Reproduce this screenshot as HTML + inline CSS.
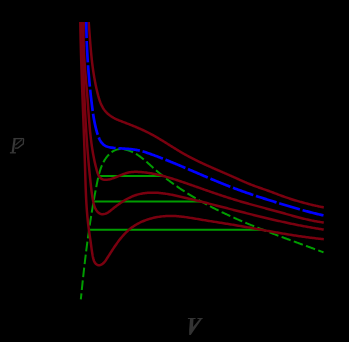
<!DOCTYPE html>
<html><head><meta charset="utf-8"><style>
html,body{margin:0;padding:0;background:#000;}
body{width:349px;height:342px;overflow:hidden;position:relative;font-family:"Liberation Serif",serif;}
svg{position:absolute;left:0;top:0;display:block}
</style></head><body>
<svg width="349" height="342" viewBox="0 0 349 342">
<rect width="349" height="342" fill="#000"/>
<path d="M80.84,299.41 L80.94,298.40 L81.04,297.39 L81.14,296.39 L81.24,295.38 L81.34,294.38 L81.44,293.38 L81.54,292.38 L81.64,291.38 L81.75,290.38 L81.85,289.39 L81.95,288.39 L82.05,287.40 L82.16,286.40 L82.26,285.41 L82.37,284.42 L82.47,283.43 L82.57,282.44 L82.68,281.45 L82.78,280.47 L82.89,279.48 L83.00,278.49 L83.10,277.51 L83.21,276.52 L83.32,275.54 L83.43,274.56 L83.53,273.58 L83.64,272.60 L83.75,271.62 L83.86,270.64 L83.97,269.66 L84.08,268.68 L84.19,267.70 L84.31,266.73 L84.42,265.75 L84.53,264.78 L84.64,263.80 L84.76,262.83 L84.87,261.86 L84.99,260.88 L85.10,259.91 L85.22,258.94 L85.34,257.97 L85.45,257.00 L85.57,256.03 L85.69,255.06 L85.81,254.09 L85.93,253.12 L86.05,252.15 L86.17,251.18 L86.30,250.21 L86.42,249.24 L86.54,248.27 L86.67,247.31 L86.79,246.34 L86.92,245.37 L87.05,244.41 L87.17,243.44 L87.30,242.47 L87.43,241.51 L87.56,240.54 L87.69,239.57 L87.82,238.61 L87.96,237.64 L88.09,236.68 L88.22,235.71 L88.36,234.74 L88.49,233.78 L88.63,232.81 L88.77,231.85 L88.91,230.88 L89.05,229.91 L89.19,228.95 L89.33,227.98 L89.47,227.01 L89.61,226.05 L89.76,225.08 L89.90,224.11 L90.05,223.14 L90.20,222.18 L90.35,221.21 L90.50,220.24 L90.65,219.27 L90.80,218.30 L90.95,217.33 L91.10,216.36 L91.26,215.39 L91.41,214.42 L91.57,213.45 L91.73,212.48 L91.89,211.51 L92.05,210.53 L92.21,209.56 L92.37,208.59 L92.54,207.61 L92.70,206.64 L92.87,205.66 L93.03,204.69 L93.20,203.71 L93.37,202.73 L93.54,201.75 L93.72,200.78 L93.89,199.80 L94.06,198.82 L94.24,197.83 L94.42,196.85 L94.60,195.87 L94.78,194.89 L94.96,193.90 L95.14,192.92 L95.32,191.93 L95.51,190.94 L95.70,189.96 L95.88,188.97 L96.07,187.98 L96.26,186.99 L96.46,186.00 L96.65,185.00 L96.84,184.01 L97.04,183.01 L97.24,182.02 L97.44,181.02 L97.65,180.03 L97.86,179.04 L98.08,178.05 L98.30,177.06 L98.54,176.08 L98.78,175.09 L99.03,174.12 L99.29,173.15 L99.56,172.18 L99.84,171.22 L100.14,170.27 L100.45,169.32 L100.77,168.38 L101.11,167.45 L101.46,166.53 L101.83,165.62 L102.22,164.72 L102.63,163.83 L103.06,162.95 L103.50,162.08 L103.97,161.23 L104.46,160.38 L104.97,159.55 L105.51,158.74 L106.07,157.94 L106.65,157.16 L107.25,156.41 L107.88,155.67 L108.52,154.96 L109.19,154.29 L109.87,153.64 L110.58,153.02 L111.30,152.44 L112.05,151.90 L112.81,151.40 L113.59,150.94 L114.38,150.53 L115.20,150.17 L116.03,149.85 L116.88,149.59 L117.74,149.38 L118.61,149.22 L119.50,149.12 L120.40,149.06 L121.31,149.06 L122.23,149.09 L123.15,149.18 L124.08,149.30 L125.02,149.47 L125.96,149.67 L126.89,149.91 L127.83,150.19 L128.77,150.49 L129.70,150.83 L130.63,151.20 L131.55,151.59 L132.46,152.02 L133.37,152.46 L134.26,152.93 L135.15,153.41 L136.02,153.92 L136.87,154.44 L137.72,154.97 L138.55,155.53 L139.37,156.09 L140.18,156.67 L140.98,157.26 L141.78,157.87 L142.56,158.48 L143.34,159.10 L144.11,159.74 L144.87,160.38 L145.63,161.02 L146.39,161.68 L147.14,162.34 L147.88,163.00 L148.63,163.66 L149.37,164.33 L150.11,165.00 L150.85,165.67 L151.59,166.34 L152.33,167.00 L153.07,167.67 L153.81,168.33 L154.56,168.99 L155.31,169.64 L156.06,170.29 L156.81,170.94 L157.57,171.58 L158.32,172.22 L159.08,172.86 L159.85,173.49 L160.61,174.12 L161.38,174.74 L162.15,175.37 L162.92,175.98 L163.69,176.60 L164.47,177.21 L165.24,177.82 L166.02,178.42 L166.80,179.03 L167.59,179.62 L168.37,180.22 L169.16,180.81 L169.95,181.40 L170.74,181.98 L171.54,182.56 L172.33,183.14 L173.13,183.72 L173.93,184.29 L174.73,184.86 L175.54,185.42 L176.34,185.99 L177.15,186.55 L177.96,187.10 L178.77,187.66 L179.58,188.21 L180.40,188.75 L181.21,189.30 L182.03,189.84 L182.85,190.38 L183.67,190.91 L184.50,191.45 L185.32,191.98 L186.15,192.50 L186.98,193.03 L187.81,193.55 L188.64,194.07 L189.48,194.58 L190.31,195.10 L191.15,195.61 L191.99,196.11 L192.83,196.62 L193.67,197.12 L194.52,197.62 L195.36,198.12 L196.21,198.61 L197.06,199.10 L197.91,199.59 L198.76,200.08 L199.61,200.56 L200.47,201.05 L201.32,201.53 L202.18,202.00 L203.04,202.48 L203.90,202.95 L204.76,203.42 L205.62,203.88 L206.49,204.35 L207.35,204.81 L208.22,205.27 L209.09,205.73 L209.95,206.19 L210.83,206.64 L211.70,207.09 L212.57,207.54 L213.44,207.99 L214.32,208.43 L215.20,208.87 L216.07,209.31 L216.95,209.75 L217.83,210.19 L218.71,210.62 L219.60,211.05 L220.48,211.48 L221.37,211.91 L222.25,212.34 L223.14,212.76 L224.03,213.18 L224.91,213.60 L225.80,214.02 L226.69,214.44 L227.59,214.85 L228.48,215.27 L229.37,215.68 L230.27,216.09 L231.16,216.49 L232.06,216.90 L232.96,217.30 L233.85,217.71 L234.75,218.11 L235.65,218.51 L236.55,218.90 L237.46,219.30 L238.36,219.69 L239.26,220.09 L240.16,220.48 L241.07,220.87 L241.97,221.26 L242.88,221.64 L243.79,222.03 L244.69,222.41 L245.60,222.79 L246.51,223.17 L247.42,223.55 L248.33,223.93 L249.24,224.31 L250.15,224.68 L251.06,225.06 L251.97,225.43 L252.89,225.80 L253.80,226.17 L254.71,226.54 L255.63,226.91 L256.54,227.28 L257.46,227.64 L258.37,228.01 L259.29,228.37 L260.21,228.74 L261.12,229.10 L262.04,229.46 L262.96,229.82 L263.87,230.17 L264.79,230.53 L265.71,230.89 L266.63,231.24 L267.55,231.60 L268.47,231.95 L269.39,232.31 L270.31,232.66 L271.23,233.01 L272.15,233.36 L273.07,233.71 L273.99,234.06 L274.91,234.41 L275.83,234.75 L276.75,235.10 L277.67,235.45 L278.59,235.79 L279.52,236.14 L280.44,236.48 L281.36,236.82 L282.28,237.17 L283.20,237.51 L284.12,237.85 L285.04,238.19 L285.97,238.53 L286.89,238.87 L287.81,239.21 L288.73,239.55 L289.65,239.89 L290.57,240.23 L291.49,240.57 L292.41,240.91 L293.33,241.25 L294.25,241.58 L295.17,241.92 L296.09,242.26 L297.01,242.59 L297.93,242.93 L298.85,243.27 L299.77,243.60 L300.69,243.94 L301.61,244.28 L302.53,244.61 L303.45,244.95 L304.36,245.28 L305.28,245.62 L306.20,245.95 L307.11,246.29 L308.03,246.63 L308.94,246.96 L309.86,247.30 L310.77,247.63 L311.69,247.97 L312.60,248.30 L313.52,248.64 L314.43,248.98 L315.34,249.31 L316.25,249.65 L317.16,249.99 L318.07,250.32 L318.98,250.66 L319.89,251.00 L320.80,251.34 L321.71,251.68 L322.62,252.02 L323.52,252.35" fill="none" stroke="#009c00" stroke-width="2" stroke-dasharray="9.6,3.395" stroke-dashoffset="3.53"/>
<path d="M98.6,176.0 L163.2,176.0" stroke="#009c00" stroke-width="2" fill="none"/>
<path d="M93.2,201.5 L201,201.5" stroke="#009c00" stroke-width="2" fill="none"/>
<path d="M89,229.8 L264,229.8" stroke="#009c00" stroke-width="2" fill="none"/>
<path d="M80.30,22.00 L80.32,23.24 L80.34,24.48 L80.36,25.71 L80.39,26.95 L80.41,28.19 L80.43,29.43 L80.46,30.66 L80.48,31.90 L80.51,33.14 L80.53,34.37 L80.56,35.61 L80.59,36.85 L80.62,38.09 L80.64,39.32 L80.67,40.56 L80.70,41.80 L80.73,43.03 L80.77,44.27 L80.80,45.51 L80.83,46.75 L80.86,47.98 L80.90,49.22 L80.93,50.46 L80.96,51.69 L81.00,52.93 L81.03,54.17 L81.07,55.41 L81.11,56.64 L81.14,57.88 L81.18,59.12 L81.22,60.36 L81.26,61.59 L81.29,62.83 L81.33,64.07 L81.37,65.30 L81.41,66.54 L81.45,67.78 L81.49,69.02 L81.53,70.25 L81.58,71.49 L81.62,72.73 L81.66,73.97 L81.70,75.20 L81.74,76.44 L81.79,77.68 L81.83,78.92 L81.87,80.15 L81.92,81.39 L81.96,82.63 L82.00,83.86 L82.05,85.10 L82.09,86.34 L82.14,87.58 L82.18,88.81 L82.23,90.05 L82.27,91.29 L82.32,92.53 L82.37,93.76 L82.41,95.00 L82.46,96.24 L82.50,97.47 L82.55,98.71 L82.60,99.95 L82.64,101.19 L82.69,102.42 L82.74,103.66 L82.79,104.90 L82.83,106.14 L82.88,107.37 L82.93,108.61 L82.97,109.85 L83.02,111.08 L83.07,112.32 L83.12,113.56 L83.16,114.80 L83.21,116.03 L83.26,117.27 L83.31,118.51 L83.35,119.74 L83.40,120.98 L83.45,122.22 L83.49,123.46 L83.54,124.69 L83.59,125.93 L83.64,127.17 L83.68,128.40 L83.73,129.64 L83.78,130.88 L83.82,132.11 L83.87,133.35 L83.91,134.59 L83.96,135.83 L84.01,137.06 L84.05,138.30 L84.10,139.54 L84.14,140.77 L84.19,142.01 L84.23,143.25 L84.28,144.48 L84.32,145.72 L84.36,146.96 L84.41,148.19 L84.45,149.43 L84.50,150.67 L84.54,151.90 L84.58,153.14 L84.62,154.38 L84.67,155.61 L84.71,156.85 L84.75,158.09 L84.79,159.32 L84.83,160.56 L84.87,161.80 L84.91,163.03 L84.95,164.27 L84.99,165.51 L85.03,166.74 L85.07,167.98 L85.10,169.21 L85.14,170.45 L85.18,171.69 L85.22,172.92 L85.25,174.16 L85.29,175.40 L85.33,176.63 L85.36,177.87 L85.40,179.10 L85.44,180.34 L85.48,181.58 L85.52,182.81 L85.56,184.05 L85.60,185.28 L85.64,186.52 L85.69,187.76 L85.73,188.99 L85.78,190.23 L85.83,191.46 L85.88,192.70 L85.93,193.94 L85.98,195.17 L86.04,196.41 L86.10,197.64 L86.16,198.88 L86.22,200.11 L86.29,201.35 L86.36,202.59 L86.43,203.82 L86.51,205.06 L86.59,206.29 L86.67,207.53 L86.76,208.76 L86.85,210.00 L86.94,211.24 L87.04,212.47 L87.14,213.71 L87.24,214.94 L87.35,216.18 L87.47,217.41 L87.59,218.65 L87.71,219.88 L87.84,221.12 L87.97,222.35 L88.11,223.59 L88.25,224.82 L88.40,226.06 L88.56,227.30 L88.72,228.53 L88.88,229.77 L89.05,231.00 L89.23,232.23 L89.41,233.47 L89.59,234.70 L89.77,235.92 L89.96,237.14 L90.14,238.36 L90.32,239.57 L90.49,240.77 L90.66,241.96 L90.82,243.15 L90.98,244.32 L91.13,245.50 L91.29,246.69 L91.45,247.88 L91.61,249.08 L91.79,250.30 L91.97,251.55 L92.17,252.81 L92.38,254.11 L92.60,255.45 L92.86,256.81 L93.15,258.16 L93.50,259.49 L93.93,260.75 L94.46,261.91 L95.10,262.94 L95.85,263.82 L96.71,264.51 L97.65,264.98 L98.64,265.21 L99.67,265.18 L100.70,264.91 L101.71,264.45 L102.66,263.81 L103.53,263.05 L104.34,262.17 L105.10,261.21 L105.82,260.19 L106.53,259.12 L107.22,258.05 L107.91,256.97 L108.60,255.89 L109.30,254.81 L109.99,253.73 L110.68,252.66 L111.37,251.58 L112.07,250.50 L112.77,249.43 L113.47,248.37 L114.18,247.31 L114.90,246.25 L115.61,245.21 L116.34,244.17 L117.07,243.14 L117.82,242.12 L118.57,241.11 L119.32,240.11 L120.09,239.12 L120.87,238.15 L121.67,237.19 L122.47,236.25 L123.29,235.33 L124.12,234.42 L124.96,233.52 L125.82,232.65 L126.70,231.80 L127.59,230.97 L128.50,230.15 L129.42,229.37 L130.37,228.60 L131.33,227.86 L132.31,227.14 L133.31,226.44 L134.33,225.77 L135.36,225.12 L136.40,224.50 L137.47,223.90 L138.54,223.32 L139.64,222.76 L140.74,222.23 L141.86,221.72 L142.99,221.23 L144.13,220.76 L145.28,220.32 L146.44,219.89 L147.61,219.49 L148.79,219.12 L149.98,218.76 L151.18,218.42 L152.38,218.11 L153.59,217.82 L154.81,217.55 L156.03,217.30 L157.26,217.07 L158.49,216.87 L159.72,216.68 L160.96,216.51 L162.20,216.37 L163.45,216.24 L164.69,216.14 L165.93,216.06 L167.18,215.99 L168.42,215.95 L169.67,215.93 L170.91,215.92 L172.15,215.94 L173.39,215.97 L174.62,216.02 L175.86,216.09 L177.09,216.17 L178.33,216.27 L179.56,216.38 L180.79,216.51 L182.02,216.64 L183.24,216.79 L184.47,216.95 L185.70,217.12 L186.92,217.29 L188.15,217.47 L189.37,217.66 L190.59,217.86 L191.82,218.05 L193.04,218.26 L194.26,218.46 L195.48,218.67 L196.70,218.88 L197.93,219.09 L199.15,219.30 L200.37,219.50 L201.59,219.71 L202.81,219.91 L204.03,220.11 L205.26,220.31 L206.48,220.51 L207.70,220.71 L208.92,220.91 L210.14,221.11 L211.37,221.30 L212.59,221.50 L213.81,221.69 L215.03,221.89 L216.26,222.08 L217.48,222.28 L218.70,222.47 L219.92,222.67 L221.14,222.86 L222.36,223.06 L223.59,223.25 L224.81,223.45 L226.03,223.64 L227.25,223.84 L228.47,224.04 L229.69,224.24 L230.91,224.44 L232.13,224.64 L233.36,224.84 L234.58,225.04 L235.80,225.25 L237.02,225.45 L238.24,225.66 L239.46,225.87 L240.67,226.08 L241.89,226.29 L243.11,226.51 L244.33,226.72 L245.55,226.93 L246.77,227.15 L247.99,227.36 L249.21,227.58 L250.43,227.80 L251.64,228.02 L252.86,228.23 L254.08,228.45 L255.30,228.67 L256.52,228.89 L257.74,229.11 L258.96,229.33 L260.17,229.55 L261.39,229.77 L262.61,229.99 L263.83,230.21 L265.05,230.43 L266.27,230.64 L267.48,230.86 L268.70,231.08 L269.92,231.30 L271.14,231.51 L272.36,231.73 L273.58,231.94 L274.80,232.16 L276.02,232.37 L277.24,232.58 L278.46,232.79 L279.68,233.00 L280.90,233.21 L282.12,233.42 L283.34,233.62 L284.56,233.83 L285.78,234.03 L287.00,234.23 L288.22,234.43 L289.45,234.63 L290.67,234.83 L291.89,235.02 L293.11,235.21 L294.34,235.40 L295.56,235.59 L296.78,235.78 L298.01,235.96 L299.23,236.14 L300.46,236.32 L301.68,236.49 L302.91,236.67 L304.13,236.84 L305.36,237.01 L306.59,237.17 L307.81,237.34 L309.04,237.50 L310.27,237.65 L311.50,237.81 L312.73,237.96 L313.95,238.10 L315.18,238.25 L316.42,238.39 L317.65,238.53 L318.88,238.66 L320.11,238.79 L321.34,238.92 L322.57,239.04 L323.81,239.16" fill="none" stroke="#79000f" stroke-width="2.5"/>
<path d="M82.03,22.02 L82.06,23.08 L82.08,24.15 L82.11,25.22 L82.14,26.28 L82.17,27.35 L82.19,28.42 L82.22,29.49 L82.25,30.55 L82.28,31.62 L82.30,32.69 L82.33,33.76 L82.36,34.83 L82.39,35.90 L82.42,36.97 L82.45,38.04 L82.47,39.11 L82.50,40.18 L82.53,41.25 L82.56,42.32 L82.59,43.39 L82.62,44.46 L82.65,45.53 L82.68,46.60 L82.71,47.67 L82.74,48.75 L82.77,49.82 L82.80,50.89 L82.83,51.96 L82.86,53.03 L82.89,54.11 L82.92,55.18 L82.95,56.25 L82.99,57.32 L83.02,58.40 L83.05,59.47 L83.08,60.54 L83.12,61.62 L83.15,62.69 L83.18,63.76 L83.22,64.84 L83.25,65.91 L83.29,66.99 L83.32,68.06 L83.36,69.13 L83.39,70.21 L83.43,71.28 L83.46,72.36 L83.50,73.43 L83.54,74.51 L83.57,75.58 L83.61,76.66 L83.65,77.73 L83.69,78.81 L83.73,79.88 L83.77,80.96 L83.81,82.03 L83.85,83.11 L83.89,84.18 L83.93,85.26 L83.97,86.33 L84.01,87.41 L84.06,88.48 L84.10,89.56 L84.14,90.63 L84.19,91.71 L84.23,92.78 L84.28,93.86 L84.32,94.93 L84.37,96.01 L84.41,97.08 L84.46,98.16 L84.51,99.23 L84.56,100.31 L84.61,101.38 L84.66,102.45 L84.71,103.53 L84.76,104.60 L84.81,105.68 L84.86,106.75 L84.91,107.83 L84.97,108.90 L85.02,109.98 L85.07,111.05 L85.13,112.12 L85.18,113.20 L85.24,114.27 L85.30,115.35 L85.36,116.42 L85.41,117.49 L85.47,118.57 L85.53,119.64 L85.59,120.71 L85.65,121.79 L85.72,122.86 L85.78,123.93 L85.84,125.01 L85.91,126.08 L85.97,127.15 L86.04,128.22 L86.10,129.29 L86.17,130.37 L86.24,131.44 L86.31,132.51 L86.38,133.58 L86.45,134.65 L86.52,135.72 L86.59,136.79 L86.66,137.86 L86.74,138.93 L86.81,140.00 L86.89,141.07 L86.96,142.14 L87.04,143.21 L87.12,144.28 L87.20,145.35 L87.28,146.42 L87.36,147.49 L87.44,148.56 L87.52,149.63 L87.60,150.69 L87.69,151.76 L87.77,152.83 L87.86,153.90 L87.95,154.96 L88.03,156.03 L88.12,157.10 L88.21,158.16 L88.30,159.23 L88.40,160.29 L88.49,161.36 L88.58,162.42 L88.68,163.49 L88.77,164.55 L88.87,165.62 L88.97,166.68 L89.07,167.74 L89.17,168.80 L89.27,169.87 L89.37,170.93 L89.47,171.99 L89.58,173.05 L89.68,174.11 L89.79,175.17 L89.90,176.24 L90.01,177.30 L90.12,178.35 L90.23,179.41 L90.34,180.47 L90.45,181.53 L90.57,182.59 L90.68,183.65 L90.80,184.70 L90.92,185.76 L91.04,186.82 L91.16,187.88 L91.29,188.94 L91.42,190.00 L91.55,191.06 L91.69,192.12 L91.84,193.19 L91.99,194.26 L92.15,195.33 L92.32,196.41 L92.50,197.49 L92.68,198.58 L92.88,199.68 L93.09,200.77 L93.31,201.88 L93.55,202.98 L93.81,204.08 L94.10,205.16 L94.44,206.23 L94.81,207.27 L95.24,208.27 L95.72,209.24 L96.27,210.16 L96.89,211.03 L97.58,211.83 L98.34,212.55 L99.15,213.17 L100.03,213.66 L100.95,214.01 L101.91,214.19 L102.91,214.21 L103.92,214.09 L104.92,213.84 L105.91,213.49 L106.86,213.05 L107.78,212.55 L108.67,212.00 L109.53,211.39 L110.39,210.75 L111.23,210.08 L112.07,209.39 L112.91,208.70 L113.76,208.01 L114.62,207.33 L115.49,206.65 L116.36,205.98 L117.25,205.31 L118.14,204.66 L119.04,204.01 L119.94,203.37 L120.85,202.75 L121.77,202.13 L122.70,201.53 L123.63,200.94 L124.57,200.37 L125.52,199.81 L126.47,199.27 L127.43,198.75 L128.39,198.24 L129.36,197.76 L130.33,197.29 L131.31,196.84 L132.30,196.42 L133.29,196.02 L134.28,195.64 L135.28,195.28 L136.28,194.95 L137.29,194.65 L138.30,194.37 L139.31,194.11 L140.33,193.87 L141.35,193.66 L142.38,193.47 L143.41,193.30 L144.44,193.15 L145.48,193.02 L146.51,192.91 L147.56,192.82 L148.60,192.75 L149.65,192.70 L150.69,192.66 L151.75,192.64 L152.80,192.64 L153.86,192.65 L154.91,192.68 L155.97,192.72 L157.03,192.78 L158.10,192.85 L159.16,192.94 L160.23,193.04 L161.30,193.15 L162.36,193.27 L163.43,193.40 L164.50,193.55 L165.57,193.70 L166.64,193.87 L167.72,194.04 L168.79,194.23 L169.86,194.42 L170.93,194.62 L172.01,194.82 L173.08,195.04 L174.15,195.25 L175.22,195.48 L176.29,195.71 L177.36,195.94 L178.43,196.18 L179.50,196.42 L180.57,196.67 L181.63,196.91 L182.70,197.16 L183.76,197.42 L184.82,197.67 L185.88,197.92 L186.94,198.17 L188.00,198.43 L189.05,198.68 L190.11,198.93 L191.16,199.19 L192.21,199.45 L193.26,199.70 L194.31,199.96 L195.35,200.21 L196.40,200.47 L197.45,200.73 L198.49,200.99 L199.53,201.25 L200.57,201.51 L201.61,201.76 L202.65,202.02 L203.69,202.28 L204.73,202.54 L205.77,202.80 L206.80,203.07 L207.84,203.33 L208.87,203.59 L209.91,203.85 L210.94,204.11 L211.97,204.37 L213.01,204.64 L214.04,204.90 L215.07,205.16 L216.10,205.43 L217.13,205.69 L218.16,205.95 L219.20,206.22 L220.23,206.48 L221.26,206.74 L222.29,207.01 L223.32,207.27 L224.35,207.54 L225.38,207.80 L226.41,208.07 L227.44,208.33 L228.47,208.60 L229.50,208.86 L230.54,209.12 L231.57,209.39 L232.60,209.65 L233.64,209.92 L234.67,210.18 L235.70,210.45 L236.74,210.71 L237.77,210.98 L238.81,211.24 L239.85,211.51 L240.88,211.77 L241.92,212.03 L242.96,212.30 L244.00,212.56 L245.04,212.82 L246.07,213.09 L247.11,213.35 L248.15,213.61 L249.20,213.87 L250.24,214.13 L251.28,214.39 L252.32,214.66 L253.36,214.91 L254.41,215.17 L255.45,215.43 L256.49,215.69 L257.54,215.95 L258.58,216.20 L259.63,216.46 L260.67,216.72 L261.72,216.97 L262.76,217.22 L263.81,217.48 L264.86,217.73 L265.90,217.98 L266.95,218.23 L268.00,218.48 L269.04,218.73 L270.09,218.97 L271.14,219.22 L272.19,219.46 L273.24,219.71 L274.29,219.95 L275.34,220.19 L276.39,220.43 L277.44,220.67 L278.49,220.91 L279.54,221.15 L280.59,221.38 L281.64,221.62 L282.69,221.85 L283.74,222.08 L284.79,222.31 L285.84,222.54 L286.89,222.77 L287.95,222.99 L289.00,223.22 L290.05,223.44 L291.10,223.66 L292.15,223.88 L293.21,224.09 L294.26,224.31 L295.31,224.52 L296.36,224.74 L297.42,224.95 L298.47,225.16 L299.52,225.36 L300.57,225.57 L301.63,225.77 L302.68,225.97 L303.73,226.17 L304.79,226.37 L305.84,226.56 L306.89,226.76 L307.95,226.95 L309.00,227.14 L310.05,227.32 L311.11,227.51 L312.16,227.69 L313.21,227.87 L314.26,228.05 L315.32,228.23 L316.37,228.40 L317.42,228.57 L318.47,228.74 L319.53,228.91 L320.58,229.07 L321.63,229.23 L322.68,229.39 L323.74,229.55" fill="none" stroke="#79000f" stroke-width="2.5"/>
<path d="M83.90,22.00 L83.85,22.99 L83.80,23.98 L83.76,24.97 L83.72,25.96 L83.68,26.94 L83.65,27.93 L83.63,28.92 L83.61,29.90 L83.59,30.89 L83.57,31.87 L83.56,32.85 L83.55,33.84 L83.55,34.82 L83.55,35.80 L83.55,36.78 L83.56,37.76 L83.57,38.74 L83.58,39.72 L83.60,40.70 L83.62,41.68 L83.64,42.65 L83.66,43.63 L83.69,44.61 L83.72,45.59 L83.75,46.56 L83.79,47.54 L83.83,48.51 L83.87,49.49 L83.91,50.46 L83.96,51.44 L84.00,52.41 L84.05,53.38 L84.11,54.36 L84.16,55.33 L84.22,56.30 L84.27,57.28 L84.33,58.25 L84.39,59.22 L84.46,60.19 L84.52,61.16 L84.59,62.14 L84.66,63.11 L84.73,64.08 L84.80,65.05 L84.87,66.02 L84.94,66.99 L85.01,67.96 L85.09,68.93 L85.17,69.91 L85.24,70.88 L85.32,71.85 L85.40,72.82 L85.48,73.79 L85.56,74.76 L85.64,75.73 L85.72,76.70 L85.80,77.68 L85.88,78.65 L85.96,79.62 L86.04,80.59 L86.13,81.56 L86.21,82.53 L86.29,83.51 L86.37,84.48 L86.45,85.45 L86.53,86.43 L86.62,87.40 L86.70,88.37 L86.78,89.35 L86.86,90.32 L86.93,91.30 L87.01,92.27 L87.09,93.25 L87.17,94.22 L87.24,95.20 L87.32,96.18 L87.39,97.15 L87.47,98.13 L87.54,99.11 L87.61,100.09 L87.68,101.06 L87.75,102.04 L87.82,103.02 L87.89,104.00 L87.96,104.98 L88.03,105.96 L88.10,106.94 L88.17,107.92 L88.24,108.89 L88.31,109.87 L88.38,110.85 L88.45,111.83 L88.53,112.81 L88.60,113.79 L88.67,114.77 L88.74,115.74 L88.82,116.72 L88.89,117.70 L88.97,118.67 L89.04,119.65 L89.12,120.62 L89.20,121.60 L89.28,122.57 L89.36,123.55 L89.44,124.52 L89.53,125.49 L89.61,126.47 L89.70,127.44 L89.79,128.41 L89.88,129.38 L89.97,130.35 L90.07,131.31 L90.17,132.28 L90.27,133.25 L90.37,134.21 L90.47,135.18 L90.58,136.14 L90.68,137.10 L90.80,138.06 L90.91,139.02 L91.03,139.99 L91.15,140.95 L91.27,141.90 L91.39,142.86 L91.52,143.82 L91.66,144.78 L91.79,145.74 L91.93,146.70 L92.08,147.66 L92.22,148.62 L92.38,149.58 L92.53,150.54 L92.69,151.50 L92.85,152.46 L93.02,153.43 L93.20,154.39 L93.37,155.36 L93.56,156.32 L93.74,157.29 L93.94,158.26 L94.14,159.23 L94.34,160.20 L94.55,161.17 L94.76,162.15 L94.98,163.12 L95.20,164.10 L95.44,165.08 L95.67,166.07 L95.92,167.05 L96.17,168.04 L96.42,169.03 L96.68,170.02 L96.95,171.01 L97.24,172.00 L97.54,172.97 L97.88,173.91 L98.26,174.81 L98.69,175.67 L99.17,176.46 L99.72,177.19 L100.33,177.84 L101.00,178.40 L101.72,178.87 L102.49,179.24 L103.31,179.50 L104.18,179.68 L105.08,179.76 L106.01,179.77 L106.96,179.71 L107.94,179.59 L108.92,179.41 L109.91,179.19 L110.90,178.93 L111.88,178.63 L112.85,178.32 L113.82,177.99 L114.77,177.64 L115.71,177.28 L116.64,176.90 L117.57,176.52 L118.49,176.14 L119.40,175.75 L120.32,175.37 L121.23,174.99 L122.14,174.63 L123.05,174.27 L123.96,173.92 L124.87,173.60 L125.79,173.29 L126.71,173.01 L127.64,172.75 L128.57,172.52 L129.52,172.33 L130.47,172.17 L131.43,172.04 L132.40,171.95 L133.38,171.89 L134.36,171.85 L135.34,171.84 L136.33,171.85 L137.32,171.87 L138.31,171.91 L139.29,171.97 L140.28,172.03 L141.26,172.10 L142.24,172.19 L143.22,172.28 L144.20,172.38 L145.17,172.49 L146.15,172.61 L147.12,172.74 L148.09,172.87 L149.05,173.02 L150.02,173.17 L150.98,173.33 L151.95,173.50 L152.91,173.68 L153.86,173.86 L154.82,174.05 L155.78,174.25 L156.73,174.45 L157.68,174.66 L158.63,174.88 L159.58,175.11 L160.53,175.33 L161.48,175.57 L162.42,175.81 L163.37,176.06 L164.31,176.31 L165.25,176.57 L166.19,176.83 L167.13,177.09 L168.07,177.36 L169.01,177.64 L169.94,177.92 L170.88,178.20 L171.81,178.49 L172.75,178.78 L173.68,179.07 L174.61,179.37 L175.54,179.67 L176.47,179.97 L177.40,180.27 L178.33,180.58 L179.26,180.89 L180.19,181.20 L181.12,181.51 L182.04,181.83 L182.97,182.14 L183.90,182.46 L184.82,182.78 L185.75,183.10 L186.67,183.42 L187.60,183.74 L188.52,184.06 L189.45,184.38 L190.37,184.70 L191.30,185.02 L192.22,185.35 L193.14,185.67 L194.07,185.99 L194.99,186.32 L195.91,186.64 L196.84,186.96 L197.76,187.29 L198.68,187.61 L199.61,187.94 L200.53,188.26 L201.45,188.59 L202.37,188.91 L203.30,189.24 L204.22,189.56 L205.14,189.88 L206.07,190.21 L206.99,190.53 L207.91,190.85 L208.83,191.17 L209.76,191.49 L210.68,191.81 L211.61,192.13 L212.53,192.45 L213.45,192.77 L214.38,193.09 L215.30,193.41 L216.23,193.72 L217.15,194.04 L218.08,194.35 L219.00,194.66 L219.93,194.97 L220.86,195.28 L221.78,195.59 L222.71,195.90 L223.64,196.21 L224.57,196.51 L225.50,196.81 L226.42,197.12 L227.35,197.42 L228.28,197.71 L229.21,198.01 L230.15,198.31 L231.08,198.60 L232.01,198.89 L232.94,199.18 L233.88,199.47 L234.81,199.75 L235.74,200.04 L236.68,200.32 L237.62,200.60 L238.55,200.88 L239.49,201.15 L240.43,201.43 L241.37,201.70 L242.30,201.97 L243.24,202.24 L244.18,202.51 L245.12,202.77 L246.06,203.04 L247.00,203.30 L247.95,203.57 L248.89,203.83 L249.83,204.09 L250.77,204.35 L251.71,204.61 L252.66,204.86 L253.60,205.12 L254.54,205.38 L255.49,205.63 L256.43,205.89 L257.38,206.14 L258.32,206.40 L259.27,206.65 L260.21,206.90 L261.15,207.16 L262.10,207.41 L263.04,207.66 L263.99,207.91 L264.93,208.17 L265.88,208.42 L266.82,208.67 L267.77,208.92 L268.71,209.18 L269.66,209.43 L270.60,209.68 L271.55,209.94 L272.49,210.19 L273.44,210.45 L274.38,210.70 L275.33,210.96 L276.27,211.22 L277.21,211.48 L278.16,211.73 L279.10,211.99 L280.04,212.26 L280.99,212.52 L281.93,212.78 L282.87,213.04 L283.81,213.31 L284.76,213.57 L285.70,213.84 L286.64,214.10 L287.58,214.37 L288.52,214.63 L289.47,214.90 L290.41,215.16 L291.35,215.42 L292.29,215.68 L293.24,215.94 L294.18,216.20 L295.12,216.46 L296.07,216.71 L297.01,216.97 L297.95,217.22 L298.90,217.47 L299.85,217.71 L300.79,217.95 L301.74,218.19 L302.69,218.43 L303.64,218.67 L304.58,218.90 L305.54,219.12 L306.49,219.35 L307.44,219.57 L308.39,219.78 L309.34,219.99 L310.30,220.20 L311.26,220.40 L312.21,220.60 L313.17,220.79 L314.13,220.97 L315.09,221.16 L316.05,221.33 L317.02,221.50 L317.98,221.66 L318.95,221.82 L319.91,221.97 L320.88,222.12 L321.85,222.26 L322.83,222.39 L323.80,222.51" fill="none" stroke="#79000f" stroke-width="2.5"/>
<path d="M88.70,22.00 L88.77,22.88 L88.83,23.76 L88.90,24.63 L88.96,25.50 L89.02,26.37 L89.09,27.24 L89.15,28.10 L89.21,28.96 L89.28,29.82 L89.34,30.68 L89.40,31.54 L89.46,32.39 L89.53,33.24 L89.59,34.09 L89.65,34.93 L89.71,35.78 L89.77,36.62 L89.84,37.46 L89.90,38.30 L89.96,39.13 L90.02,39.97 L90.09,40.80 L90.15,41.63 L90.22,42.46 L90.28,43.29 L90.35,44.12 L90.42,44.94 L90.48,45.77 L90.55,46.59 L90.62,47.41 L90.69,48.23 L90.76,49.05 L90.83,49.87 L90.90,50.68 L90.98,51.50 L91.05,52.31 L91.13,53.13 L91.21,53.94 L91.29,54.75 L91.37,55.56 L91.45,56.37 L91.53,57.18 L91.62,57.99 L91.70,58.80 L91.79,59.61 L91.88,60.41 L91.97,61.22 L92.07,62.03 L92.16,62.83 L92.26,63.64 L92.36,64.44 L92.46,65.25 L92.56,66.05 L92.67,66.86 L92.77,67.66 L92.88,68.47 L92.99,69.27 L93.11,70.08 L93.22,70.88 L93.34,71.69 L93.47,72.49 L93.59,73.30 L93.72,74.11 L93.85,74.91 L93.98,75.72 L94.11,76.53 L94.25,77.34 L94.39,78.15 L94.53,78.96 L94.68,79.77 L94.83,80.58 L94.98,81.39 L95.14,82.20 L95.30,83.02 L95.46,83.83 L95.62,84.65 L95.79,85.46 L95.96,86.28 L96.14,87.10 L96.32,87.92 L96.50,88.74 L96.69,89.56 L96.88,90.39 L97.07,91.21 L97.27,92.04 L97.47,92.87 L97.68,93.70 L97.89,94.53 L98.10,95.36 L98.33,96.18 L98.56,97.01 L98.80,97.83 L99.05,98.65 L99.31,99.46 L99.57,100.26 L99.85,101.06 L100.14,101.86 L100.44,102.64 L100.76,103.42 L101.09,104.19 L101.43,104.94 L101.79,105.69 L102.17,106.42 L102.56,107.14 L102.96,107.85 L103.39,108.54 L103.83,109.22 L104.30,109.89 L104.78,110.53 L105.29,111.16 L105.81,111.77 L106.36,112.36 L106.92,112.94 L107.51,113.50 L108.11,114.04 L108.73,114.56 L109.37,115.07 L110.02,115.56 L110.69,116.04 L111.37,116.49 L112.06,116.94 L112.77,117.36 L113.49,117.78 L114.22,118.17 L114.96,118.56 L115.71,118.93 L116.47,119.28 L117.23,119.62 L118.00,119.95 L118.78,120.28 L119.56,120.59 L120.34,120.90 L121.13,121.20 L121.91,121.50 L122.70,121.80 L123.49,122.10 L124.27,122.40 L125.05,122.70 L125.84,123.00 L126.62,123.30 L127.40,123.60 L128.18,123.90 L128.96,124.21 L129.74,124.51 L130.51,124.82 L131.29,125.12 L132.06,125.43 L132.83,125.74 L133.60,126.06 L134.37,126.37 L135.14,126.69 L135.91,127.01 L136.67,127.33 L137.44,127.65 L138.20,127.98 L138.96,128.30 L139.72,128.64 L140.47,128.97 L141.23,129.31 L141.98,129.65 L142.74,129.99 L143.49,130.34 L144.24,130.69 L144.98,131.04 L145.73,131.40 L146.47,131.76 L147.21,132.13 L147.95,132.50 L148.69,132.87 L149.42,133.25 L150.16,133.64 L150.89,134.02 L151.62,134.42 L152.35,134.81 L153.07,135.21 L153.80,135.61 L154.52,136.02 L155.24,136.43 L155.96,136.84 L156.68,137.26 L157.40,137.68 L158.11,138.10 L158.83,138.52 L159.54,138.95 L160.26,139.38 L160.97,139.81 L161.68,140.24 L162.39,140.68 L163.10,141.11 L163.81,141.55 L164.52,141.99 L165.23,142.43 L165.94,142.87 L166.64,143.31 L167.35,143.75 L168.06,144.19 L168.77,144.64 L169.47,145.08 L170.18,145.52 L170.89,145.97 L171.59,146.41 L172.30,146.85 L173.01,147.29 L173.72,147.74 L174.43,148.18 L175.14,148.61 L175.85,149.05 L176.56,149.49 L177.27,149.92 L177.98,150.36 L178.70,150.79 L179.41,151.22 L180.13,151.65 L180.84,152.07 L181.56,152.49 L182.28,152.91 L183.00,153.33 L183.72,153.75 L184.45,154.16 L185.17,154.57 L185.90,154.97 L186.63,155.37 L187.36,155.77 L188.09,156.17 L188.82,156.56 L189.55,156.95 L190.29,157.34 L191.03,157.72 L191.76,158.10 L192.50,158.48 L193.24,158.86 L193.98,159.23 L194.73,159.60 L195.47,159.97 L196.22,160.34 L196.96,160.71 L197.71,161.07 L198.46,161.43 L199.21,161.79 L199.96,162.15 L200.71,162.50 L201.46,162.85 L202.21,163.21 L202.96,163.56 L203.72,163.90 L204.47,164.25 L205.23,164.60 L205.99,164.94 L206.74,165.28 L207.50,165.62 L208.26,165.97 L209.02,166.30 L209.78,166.64 L210.54,166.98 L211.30,167.32 L212.06,167.65 L212.82,167.99 L213.58,168.32 L214.34,168.65 L215.11,168.98 L215.87,169.32 L216.63,169.65 L217.39,169.98 L218.16,170.31 L218.92,170.64 L219.68,170.97 L220.45,171.30 L221.21,171.63 L221.97,171.96 L222.74,172.29 L223.50,172.62 L224.26,172.95 L225.03,173.28 L225.79,173.61 L226.55,173.95 L227.32,174.28 L228.08,174.61 L228.84,174.94 L229.60,175.28 L230.37,175.61 L231.13,175.95 L231.89,176.28 L232.65,176.62 L233.41,176.96 L234.17,177.30 L234.93,177.64 L235.69,177.98 L236.44,178.32 L237.20,178.67 L237.96,179.01 L238.72,179.35 L239.48,179.69 L240.23,180.03 L240.99,180.37 L241.75,180.71 L242.51,181.05 L243.27,181.39 L244.03,181.72 L244.79,182.05 L245.56,182.38 L246.32,182.71 L247.09,183.03 L247.85,183.35 L248.62,183.66 L249.39,183.97 L250.17,184.28 L250.94,184.58 L251.71,184.88 L252.49,185.18 L253.27,185.47 L254.05,185.76 L254.83,186.05 L255.61,186.33 L256.39,186.61 L257.17,186.89 L257.96,187.17 L258.74,187.45 L259.52,187.72 L260.31,188.00 L261.09,188.27 L261.88,188.54 L262.66,188.82 L263.45,189.09 L264.23,189.37 L265.01,189.64 L265.80,189.92 L266.58,190.19 L267.36,190.47 L268.15,190.75 L268.93,191.04 L269.71,191.32 L270.49,191.61 L271.26,191.90 L272.04,192.19 L272.82,192.48 L273.59,192.78 L274.37,193.07 L275.14,193.37 L275.92,193.66 L276.69,193.96 L277.47,194.25 L278.25,194.55 L279.02,194.84 L279.80,195.13 L280.58,195.42 L281.36,195.70 L282.14,195.99 L282.92,196.27 L283.70,196.55 L284.49,196.82 L285.27,197.09 L286.06,197.37 L286.84,197.63 L287.63,197.90 L288.42,198.16 L289.21,198.43 L290.00,198.69 L290.79,198.94 L291.58,199.20 L292.37,199.45 L293.17,199.70 L293.96,199.95 L294.75,200.19 L295.55,200.43 L296.35,200.67 L297.14,200.91 L297.94,201.15 L298.74,201.38 L299.54,201.61 L300.34,201.84 L301.14,202.06 L301.94,202.29 L302.74,202.51 L303.55,202.73 L304.35,202.94 L305.15,203.16 L305.96,203.37 L306.76,203.58 L307.57,203.78 L308.38,203.99 L309.18,204.19 L309.99,204.39 L310.80,204.59 L311.61,204.78 L312.42,204.97 L313.23,205.16 L314.04,205.35 L314.85,205.54 L315.66,205.72 L316.47,205.90 L317.28,206.08 L318.10,206.25 L318.91,206.43 L319.72,206.60 L320.54,206.77 L321.35,206.94 L322.16,207.10 L322.98,207.26 L323.79,207.42" fill="none" stroke="#79000f" stroke-width="2.5"/>
<path d="M86.30,22.00 L86.31,22.88 L86.32,23.75 L86.32,24.63 L86.33,25.51 L86.34,26.39 L86.36,27.26 L86.37,28.15 L86.38,29.03 L86.40,29.91 L86.42,30.79 L86.43,31.68 L86.45,32.56 L86.48,33.45 L86.50,34.34 L86.52,35.23 L86.55,36.12 L86.57,37.01 L86.60,37.90 L86.63,38.79 L86.66,39.68 L86.69,40.58 L86.72,41.47 L86.76,42.37 L86.79,43.26 L86.83,44.16 L86.87,45.05 L86.90,45.95 L86.94,46.85 L86.99,47.75 L87.03,48.65 L87.07,49.55 L87.12,50.45 L87.16,51.35 L87.21,52.25 L87.26,53.15 L87.31,54.05 L87.36,54.95 L87.41,55.85 L87.46,56.76 L87.52,57.66 L87.57,58.56 L87.63,59.46 L87.69,60.37 L87.75,61.27 L87.81,62.18 L87.87,63.08 L87.93,63.98 L88.00,64.89 L88.06,65.79 L88.13,66.69 L88.19,67.60 L88.26,68.50 L88.33,69.40 L88.40,70.31 L88.47,71.21 L88.54,72.11 L88.62,73.02 L88.69,73.92 L88.77,74.82 L88.84,75.73 L88.92,76.63 L89.00,77.53 L89.08,78.43 L89.16,79.33 L89.24,80.23 L89.33,81.13 L89.41,82.03 L89.50,82.93 L89.58,83.83 L89.67,84.73 L89.76,85.63 L89.85,86.52 L89.94,87.42 L90.03,88.32 L90.12,89.21 L90.21,90.11 L90.31,91.00 L90.40,91.89 L90.50,92.78 L90.59,93.68 L90.69,94.57 L90.79,95.46 L90.89,96.35 L90.99,97.23 L91.09,98.12 L91.20,99.01 L91.30,99.89 L91.40,100.78 L91.51,101.66 L91.62,102.54 L91.72,103.43 L91.83,104.31 L91.94,105.18 L92.05,106.06 L92.16,106.94 L92.27,107.81 L92.39,108.69 L92.50,109.56 L92.62,110.44 L92.74,111.31 L92.86,112.18 L92.98,113.06 L93.11,113.93 L93.24,114.80 L93.38,115.67 L93.52,116.55 L93.66,117.42 L93.81,118.30 L93.96,119.17 L94.12,120.05 L94.28,120.93 L94.45,121.81 L94.63,122.69 L94.81,123.57 L95.00,124.46 L95.20,125.34 L95.40,126.23 L95.61,127.13 L95.83,128.02 L96.06,128.92 L96.30,129.82 L96.54,130.72 L96.80,131.63 L97.06,132.54 L97.34,133.45 L97.63,134.36 L97.93,135.26 L98.25,136.15 L98.58,137.03 L98.94,137.90 L99.31,138.74 L99.71,139.57 L100.14,140.36 L100.59,141.13 L101.06,141.87 L101.57,142.57 L102.10,143.23 L102.67,143.85 L103.28,144.43 L103.92,144.95 L104.59,145.43 L105.31,145.84 L106.06,146.21 L106.84,146.54 L107.65,146.81 L108.49,147.05 L109.35,147.26 L110.22,147.44 L111.12,147.59 L112.02,147.71 L112.93,147.82 L113.84,147.92 L114.76,148.00 L115.67,148.08 L116.59,148.15 L117.50,148.22 L118.41,148.28 L119.32,148.34 L120.22,148.40 L121.13,148.46 L122.03,148.51 L122.93,148.57 L123.83,148.62 L124.73,148.68 L125.62,148.74 L126.52,148.80 L127.41,148.86 L128.30,148.93 L129.19,149.01 L130.07,149.09 L130.96,149.18 L131.84,149.27 L132.72,149.38 L133.60,149.49 L134.48,149.61 L135.35,149.75 L136.23,149.89 L137.10,150.05 L137.97,150.22 L138.84,150.41 L139.70,150.61 L140.57,150.82 L141.43,151.05 L142.29,151.29 L143.15,151.54 L144.00,151.80 L144.86,152.06 L145.71,152.34 L146.57,152.63 L147.42,152.92 L148.27,153.21 L149.12,153.51 L149.97,153.81 L150.81,154.12 L151.66,154.42 L152.51,154.73 L153.35,155.04 L154.19,155.35 L155.04,155.66 L155.88,155.98 L156.72,156.29 L157.56,156.61 L158.40,156.93 L159.24,157.25 L160.08,157.57 L160.92,157.90 L161.76,158.22 L162.59,158.55 L163.43,158.88 L164.27,159.21 L165.10,159.54 L165.94,159.87 L166.77,160.20 L167.60,160.54 L168.44,160.87 L169.27,161.21 L170.10,161.55 L170.93,161.89 L171.76,162.23 L172.59,162.57 L173.42,162.91 L174.25,163.25 L175.08,163.59 L175.91,163.94 L176.74,164.28 L177.56,164.63 L178.39,164.98 L179.22,165.32 L180.04,165.67 L180.87,166.02 L181.70,166.37 L182.52,166.72 L183.35,167.07 L184.17,167.42 L185.00,167.77 L185.82,168.12 L186.65,168.48 L187.47,168.83 L188.29,169.18 L189.12,169.53 L189.94,169.89 L190.77,170.24 L191.59,170.59 L192.41,170.95 L193.24,171.30 L194.06,171.66 L194.88,172.01 L195.70,172.36 L196.53,172.72 L197.35,173.07 L198.17,173.43 L199.00,173.78 L199.82,174.13 L200.64,174.49 L201.47,174.84 L202.29,175.20 L203.11,175.55 L203.94,175.90 L204.76,176.25 L205.58,176.60 L206.41,176.96 L207.23,177.31 L208.06,177.66 L208.88,178.01 L209.71,178.36 L210.53,178.70 L211.36,179.05 L212.18,179.40 L213.01,179.75 L213.83,180.09 L214.66,180.44 L215.49,180.78 L216.31,181.13 L217.14,181.47 L217.97,181.81 L218.80,182.15 L219.62,182.49 L220.45,182.83 L221.28,183.17 L222.11,183.50 L222.94,183.84 L223.77,184.17 L224.61,184.51 L225.44,184.84 L226.27,185.17 L227.10,185.50 L227.94,185.83 L228.77,186.16 L229.60,186.48 L230.44,186.80 L231.27,187.13 L232.11,187.45 L232.95,187.77 L233.79,188.09 L234.62,188.40 L235.46,188.72 L236.30,189.03 L237.14,189.34 L237.99,189.65 L238.83,189.96 L239.67,190.27 L240.51,190.57 L241.36,190.88 L242.20,191.18 L243.05,191.48 L243.89,191.78 L244.74,192.08 L245.58,192.38 L246.43,192.67 L247.28,192.97 L248.13,193.26 L248.97,193.55 L249.82,193.84 L250.67,194.13 L251.52,194.42 L252.37,194.71 L253.22,194.99 L254.07,195.28 L254.93,195.56 L255.78,195.85 L256.63,196.13 L257.48,196.41 L258.34,196.69 L259.19,196.97 L260.04,197.24 L260.90,197.52 L261.75,197.80 L262.60,198.07 L263.46,198.35 L264.31,198.62 L265.17,198.89 L266.02,199.16 L266.88,199.43 L267.74,199.70 L268.59,199.97 L269.45,200.24 L270.30,200.51 L271.16,200.78 L272.02,201.05 L272.87,201.31 L273.73,201.58 L274.59,201.84 L275.44,202.11 L276.30,202.37 L277.16,202.63 L278.02,202.90 L278.87,203.16 L279.73,203.42 L280.59,203.68 L281.44,203.95 L282.30,204.21 L283.16,204.47 L284.01,204.73 L284.87,204.99 L285.73,205.25 L286.59,205.50 L287.44,205.76 L288.30,206.02 L289.16,206.28 L290.02,206.53 L290.88,206.79 L291.73,207.04 L292.59,207.29 L293.45,207.54 L294.31,207.79 L295.17,208.04 L296.03,208.29 L296.89,208.54 L297.75,208.79 L298.61,209.03 L299.47,209.28 L300.33,209.52 L301.20,209.76 L302.06,210.00 L302.92,210.24 L303.78,210.48 L304.65,210.72 L305.51,210.95 L306.38,211.19 L307.24,211.42 L308.11,211.65 L308.97,211.88 L309.84,212.11 L310.71,212.33 L311.58,212.55 L312.45,212.78 L313.32,213.00 L314.19,213.22 L315.06,213.43 L315.93,213.65 L316.80,213.86 L317.67,214.07 L318.55,214.28 L319.42,214.49 L320.30,214.69 L321.17,214.89 L322.05,215.09 L322.93,215.29 L323.81,215.49" fill="none" stroke="#0000ff" stroke-width="2.7" stroke-dasharray="21.55,2.827" stroke-dashoffset="5.45"/>
<g stroke="#383838" fill="none" stroke-width="1.3"><path d="M13.4,138.6 L23.8,138.6"/><path d="M23.6,138.6 L23.3,143.8 L17.8,148.1 L15,148.1"/><path d="M21.9,139.5 L15.3,145.3" stroke-opacity="0.85"/><path d="M14.65,138.9 L12.7,152.6" stroke-width="2.2"/><path d="M9.9,152.8 L15.9,152.8"/></g>
<path fill="#333" d="M187.9,318.1 L195.6,318.1 L195.6,319.05 L193.5,319.05 L193.0,327 L199.7,319.05 L197.4,319.05 L197.4,318.1 L202.65,318.1 L202.65,319.05 L201.8,319.05 L190.7,334.9 L189.2,334.9 L189.2,329.8 L190,319.05 L187.9,319.05 Z"/>
</svg>
</body></html>
